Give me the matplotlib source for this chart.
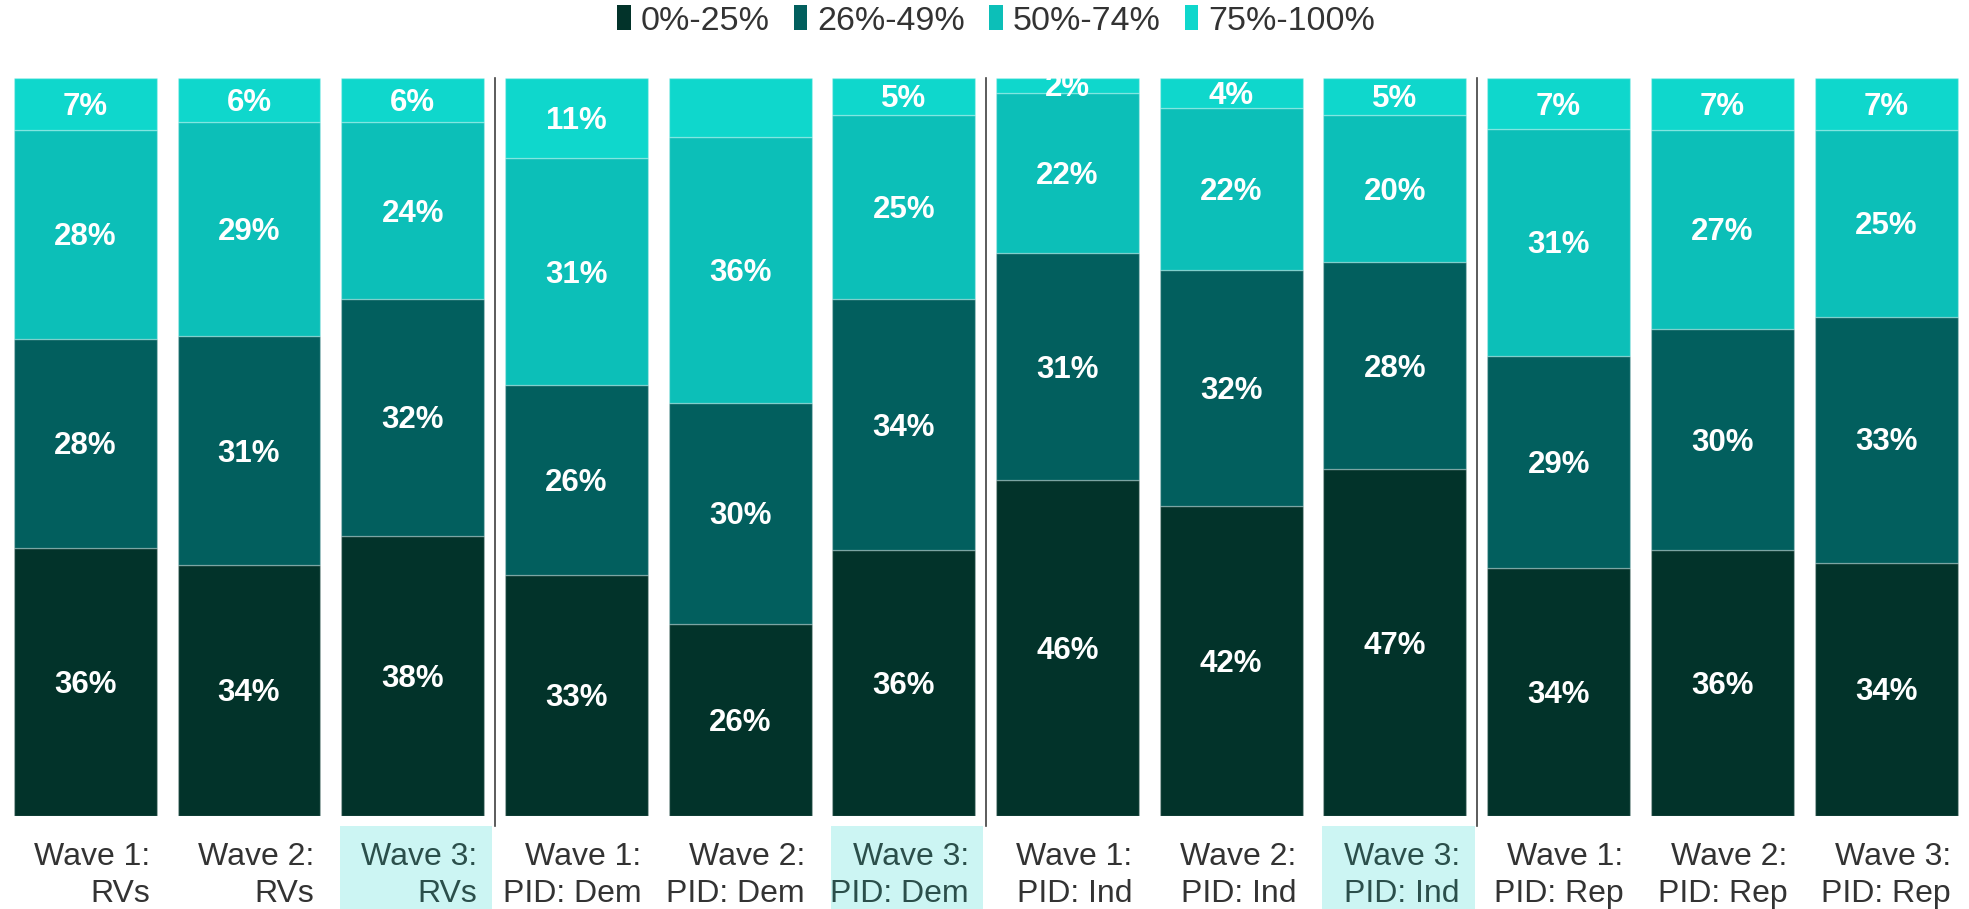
import numpy as np
import matplotlib
matplotlib.use('Agg')
import matplotlib.pyplot as plt
from matplotlib.patches import Rectangle, Patch

plt.rcParams['font.family'] = ['Liberation Sans', 'DejaVu Sans']

# data
line1 = ['Wave 1:', 'Wave 2:', 'Wave 3:', 'Wave 1:', 'Wave 2:', 'Wave 3:',
         'Wave 1:', 'Wave 2:', 'Wave 3:', 'Wave 1:', 'Wave 2:', 'Wave 3:']
line2 = ['RVs', 'RVs', 'RVs', 'PID: Dem', 'PID: Dem', 'PID: Dem',
         'PID: Ind', 'PID: Ind', 'PID: Ind', 'PID: Rep', 'PID: Rep', 'PID: Rep']
highlighted = [2, 5, 8]
separators = [2.5, 5.5, 8.5]

series_names = ['0%-25%', '26%-49%', '50%-74%', '75%-100%']
v0 = [36, 34, 38, 33, 26, 36, 46, 42, 47, 34, 36, 34]
v1 = [28, 31, 32, 26, 30, 34, 31, 32, 28, 29, 30, 33]
v2 = [28, 29, 24, 31, 36, 25, 22, 22, 20, 31, 27, 25]
v3 = [7, 6, 6, 11, 8, 5, 2, 4, 5, 7, 7, 7]
unlabeled = {(3, 4)}  # top segment of Wave 2: PID: Dem has no label

colors = ['#02332A', '#025F5E', '#0CBFB8', '#0FD7CC']

series = np.array([v0, v1, v2, v3], dtype=float)
totals = series.sum(axis=0)
shares = series / totals * 100

fig = plt.figure(figsize=(19.69, 9.09), dpi=100)
ax = fig.add_axes([0.00175, 0.1023, 0.9977, 0.8119])
x = np.arange(len(line1))
width = 0.873

bottom = np.zeros(len(x))
for s in range(4):
    ax.bar(x, shares[s], width, bottom=bottom, color=colors[s],
           edgecolor=(1, 1, 1, 0.25), linewidth=1)
    for i in range(len(x)):
        if (s, i) in unlabeled:
            continue
        ax.text(x[i], bottom[i] + shares[s][i] / 2 - 0.4, f'{int(series[s][i])}%',
                ha='center', va='center', color='white', fontsize=22.5,
                fontweight='bold')
    bottom += shares[s]

ax.set_xlim(-0.5, len(x) - 0.5)
ax.set_ylim(0, 100)
ax.axis('off')

trans = ax.get_xaxis_transform()
for sx in separators:
    ax.plot([sx, sx], [1.0, -0.013], transform=trans, color='#404040',
            linewidth=1.2, clip_on=False)

for i in highlighted:
    ax.add_patch(Rectangle((x[i] - width / 2 - 0.01, -0.126), width + 0.06, 0.113,
                           transform=trans, facecolor='#CCF5F3', edgecolor='none',
                           clip_on=False, zorder=0))

for i in range(len(x)):
    c = '#2B4F4B' if i in highlighted else '#333333'
    rx = x[i] + width / 2 - 0.04
    ax.text(rx, -0.055, line1[i], transform=trans, ha='right', va='center',
            fontsize=23, color=c)
    ax.text(rx, -0.106, line2[i], transform=trans, ha='right', va='center',
            fontsize=23, color=c)

handles = [Patch(facecolor=c, edgecolor='none') for c in colors]
fig.legend(handles, series_names, loc='center', bbox_to_anchor=(0.506, 0.977),
           ncol=4, frameon=False, fontsize=24.5, handlelength=0.4,
           handleheight=0.75, handletextpad=0.3, columnspacing=0.7,
           labelcolor='#333333')

fig.savefig('out.png', dpi=100)
